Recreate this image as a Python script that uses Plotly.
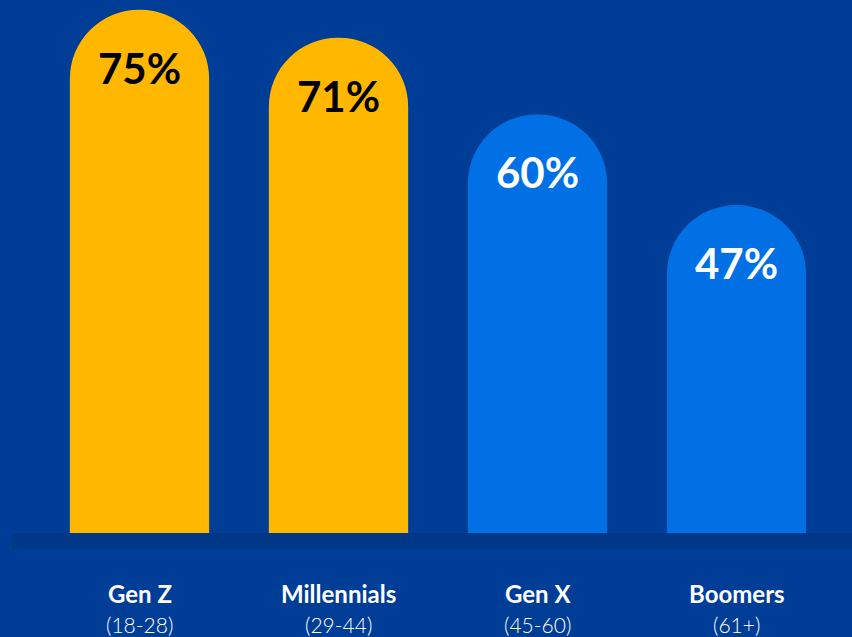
import plotly.graph_objects as go

categories = ["Gen Z", "Millennials", "Gen X", "Boomers"]
age_ranges = ["(18-28)", "(29-44)", "(45-60)", "(61+)"]
values = [75, 71, 60, 47]
value_labels = ["75%", "71%", "60%", "47%"]
bar_colors = ["#FFB700", "#FFB700", "#0070E4", "#0070E4"]
label_colors = ["#000000", "#000000", "#FFFFFF", "#FFFFFF"]

BG = "#003D97"
BAND = "#003887"

fig = go.Figure()
fig.add_trace(go.Bar(
    x=categories, y=values,
    marker=dict(color=bar_colors, line=dict(width=0), cornerradius="50%"),
    hoverinfo="skip",
))

annotations = []
for c, v, t, col in zip(categories, values, value_labels, label_colors):
    annotations.append(dict(
        x=c, y=v, xref="x", yref="y", text=f"<b>{t}</b>", showarrow=False,
        yanchor="middle", yshift=-58,
        font=dict(family="Lato", size=42, color=col),
    ))
for c, a in zip(categories, age_ranges):
    annotations.append(dict(
        x=c, y=-0.1126, xref="x", yref="paper", text=f"<b>{c}</b>", showarrow=False,
        yanchor="middle", font=dict(family="Lato", size=24, color="#FFFFFF"),
    ))
    annotations.append(dict(
        x=c, y=-0.1715, xref="x", yref="paper", text=a, showarrow=False,
        yanchor="middle", font=dict(family="Lato", size=21, color="#FFFFFF", weight=300),
    ))

fig.update_layout(
    width=852, height=637,
    margin=dict(l=40, r=16, t=0, b=104),
    paper_bgcolor=BG, plot_bgcolor=BG,
    bargap=0.3,
    showlegend=False,
    xaxis=dict(visible=False, range=[-0.5, 3.5]),
    yaxis=dict(visible=False, range=[0, 76.4]),
    annotations=annotations,
    shapes=[dict(type="rect", xref="paper", yref="paper",
                 x0=-0.035, x1=1.03, y0=-0.030, y1=0,
                 fillcolor=BAND, line=dict(width=0), layer="below")],
)

fig.write_html("out.html")
